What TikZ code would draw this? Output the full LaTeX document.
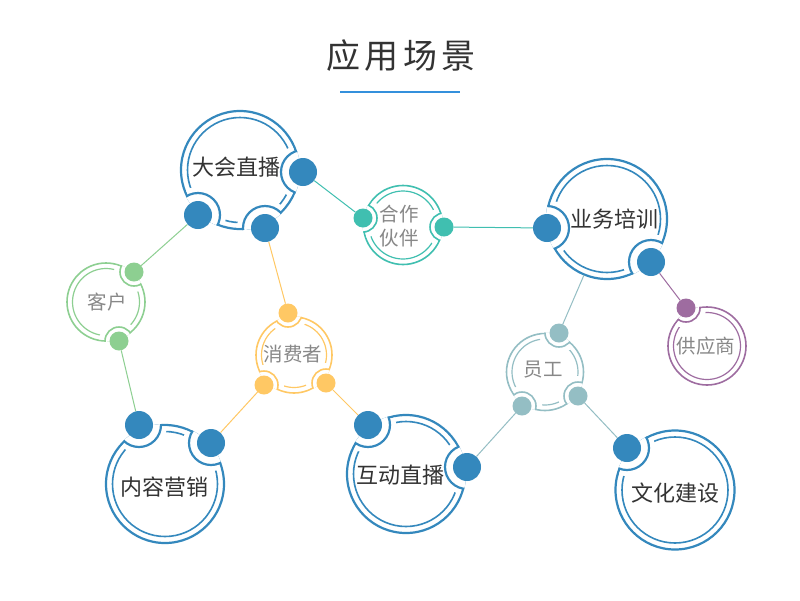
\documentclass[tikz,border=0pt]{standalone}
\usepackage{fontspec}
\setmainfont{Noto Sans CJK SC}
\newfontfamily\titlefont[LetterSpace=12]{Noto Sans CJK SC}
\definecolor{blueC}{RGB}{52,136,189}
\definecolor{tealC}{RGB}{64,191,176}
\definecolor{greenC}{RGB}{141,207,145}
\definecolor{yellowC}{RGB}{255,200,100}
\definecolor{greyC}{RGB}{148,190,196}
\definecolor{purpleC}{RGB}{158,108,160}
\definecolor{darkT}{RGB}{51,51,51}
\definecolor{lightT}{RGB}{136,136,136}
\definecolor{lineB}{RGB}{52,144,220}
\pgfdeclarelayer{bg}
\pgfdeclarelayer{mid}
\pgfsetlayers{bg,mid,main}
% #1 colour, #2 centre, #3 R, #4 inner r, #5 notch radius, #6 erase radius, #7 outer width, #8 inner width, #9 dots
\newcommand\drawcluster[9]{%
  \draw[color=#1, line width=#8pt] #2 circle[radius=#4pt];
  \draw[color=#1, line width=#7pt] #2 circle[radius=#3pt];
  \begin{scope}
    \clip #2 circle[radius=#3pt-#7pt*0.5-0.3pt];
    \foreach \d in {#9} {\fill[white] (\d) circle[radius=#6pt];}
  \end{scope}
  \begin{scope}
    \clip #2 circle[radius=#3pt+#7pt*0.5];
    \foreach \d in {#9} {\filldraw[fill=white, draw=#1, line width=#7pt] (\d) circle[radius=#5pt];}
  \end{scope}
}
\begin{document}
\begin{tikzpicture}[x=1pt,y=-1pt,
  bigdot/.style={circle, fill=#1, inner sep=0pt, minimum size=28pt},
  smalldot/.style={circle, fill=#1, inner sep=0pt, minimum size=19pt},
  bigtext/.style={text=darkT, font=\fontsize{22}{24}\selectfont, inner sep=0pt},
  smalltext/.style={text=lightT, font=\fontsize{19.5}{23.5}\selectfont, inner sep=0pt, align=center},
  link/.style={draw=#1, line width=1pt}]
\begin{pgfonlayer}{bg}
\fill[white] (0,0) rectangle (800,600);
\end{pgfonlayer}
\useasboundingbox (0,0) rectangle (800,600);

% title
\node[text=darkT, font=\titlefont\fontsize{34}{36}\selectfont, inner sep=0pt] (title) at (401,56) {应用场景};
\draw[lineB, line width=2pt] (340,92) -- (460,92);

% dots
\node[bigdot=blueC] (a1) at (303,172) {};
\node[bigdot=blueC] (a2) at (198,215) {};
\node[bigdot=blueC] (a3) at (265,228) {};
\node[smalldot=tealC] (b1) at (363,218) {};
\node[smalldot=tealC] (b2) at (444,227) {};
\node[bigdot=blueC] (c1) at (547,228) {};
\node[bigdot=blueC] (c2) at (651,262) {};
\node[smalldot=greenC] (d1) at (134,272) {};
\node[smalldot=greenC] (d2) at (119,341) {};
\node[smalldot=yellowC] (e1) at (288,313) {};
\node[smalldot=yellowC] (e2) at (264,385) {};
\node[smalldot=yellowC] (e3) at (326,383) {};
\node[smalldot=greyC] (f1) at (559,333) {};
\node[smalldot=greyC] (f2) at (522,406) {};
\node[smalldot=greyC] (f3) at (578,396) {};
\node[smalldot=purpleC] (g1) at (686,308) {};
\node[bigdot=blueC] (h1) at (139,425) {};
\node[bigdot=blueC] (h2) at (211,443) {};
\node[bigdot=blueC] (i1) at (368,425) {};
\node[bigdot=blueC] (i2) at (467,467) {};
\node[bigdot=blueC] (j1) at (627,448) {};
\coordinate (cR) at (584,275);

% texts
\node[bigtext] (ta) at (236,167) {大会直播};
\node[smalltext] (tb) at (399,226) {合作\\伙伴};
\node[bigtext] (tc) at (614,219) {业务培训};
\node[smalltext] (td) at (107,302) {客户};
\node[smalltext] (te) at (293,354) {消费者};
\node[smalltext] (tf) at (543,370) {员工};
\node[smalltext] (tg) at (706,346) {供应商};
\node[bigtext] (th) at (164,487) {内容营销};
\node[bigtext] (ti) at (400,475) {互动直播};
\node[bigtext] (tj) at (675,493) {文化建设};

% rings
\begin{pgfonlayer}{bg}
\drawcluster{blueC}{(240,170)}{59}{52.5}{22}{28}{2.2}{1.6}{a1,a2,a3}
\drawcluster{tealC}{(403,225)}{39.5}{34}{14}{20}{1.6}{1.2}{b1,b2}
\drawcluster{blueC}{(607,219)}{60}{53.5}{22}{28}{2.2}{1.6}{c1,c2}
\drawcluster{greenC}{(106,302)}{39}{33.5}{14}{20}{1.6}{1.2}{d1,d2}
\drawcluster{yellowC}{(294,355)}{38}{32.5}{14}{20}{1.6}{1.2}{e1,e2,e3}
\drawcluster{greyC}{(545,372)}{38.5}{33}{14}{20}{1.6}{1.2}{f1,f2,f3}
\drawcluster{purpleC}{(707,346)}{39}{33.5}{14}{20}{1.6}{1.2}{g1}
\drawcluster{blueC}{(165,484)}{59}{52.5}{22}{28}{2.2}{1.6}{h1,h2}
\drawcluster{blueC}{(406,474)}{59}{52.5}{22}{28}{2.2}{1.6}{i1,i2}
\drawcluster{blueC}{(675,490)}{59.5}{53}{22}{28}{2.2}{1.6}{j1}
\end{pgfonlayer}

% connectors
\begin{pgfonlayer}{mid}
\draw[link=tealC] (a1) -- (b1);
\draw[link=tealC] (b2) -- (c1);
\draw[link=greenC] (a2) -- (d1);
\draw[link=greenC] (d2) -- (h1);
\draw[link=yellowC] (a3) -- (e1);
\draw[link=yellowC] (e2) -- (h2);
\draw[link=yellowC] (e3) -- (i1);
\draw[link=greyC] (i2) -- (f2);
\draw[link=greyC] (f3) -- (j1);
\draw[link=greyC] (f1) -- (cR);
\draw[link=purpleC] (c2) -- (g1);
\end{pgfonlayer}
\end{tikzpicture}
\end{document}
